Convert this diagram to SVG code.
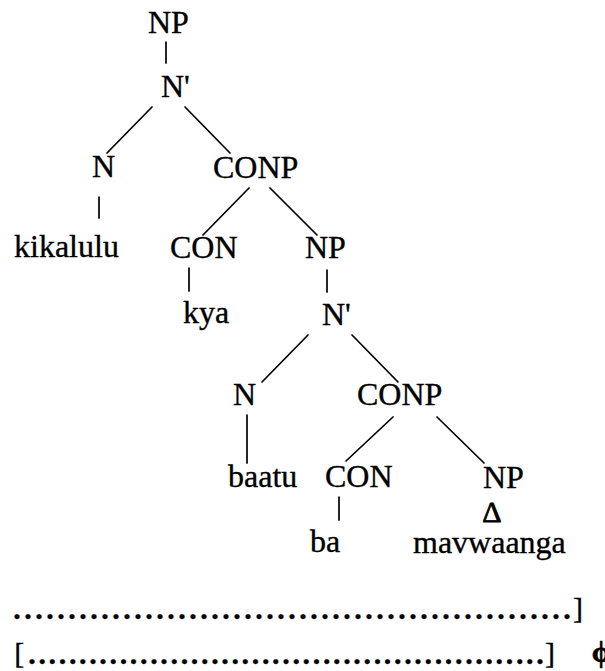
<svg xmlns="http://www.w3.org/2000/svg" width="605" height="671" viewBox="0 0 605 671">
  <style>
    text { font-family: "Liberation Serif", "Times New Roman", serif; fill: #000; stroke: #000; stroke-width: 0.35; }
    .lbl { font-size: 32px; }
    .tri { font-size: 30px; stroke-width: 0.8; }
    .br { font-size: 30px; }
    .dots { font-size: 30px; font-weight: bold; }
    .phi { font-size: 30px; font-weight: bold; stroke-width: 0.6; }
    .edge { stroke: #000; stroke-width: 1.7; stroke-linecap: round; fill: none; }
  </style>
  <rect width="605" height="671" fill="#fff"/>

  <!-- tree branches -->
  <g id="connectors">
    <line class="edge" x1="166" y1="42" x2="166" y2="63"/>
    <line class="edge" x1="152" y1="107" x2="107" y2="153"/>
    <line class="edge" x1="185" y1="107" x2="230" y2="153"/>
    <line class="edge" x1="99" y1="197" x2="99" y2="218"/>
    <line class="edge" x1="249" y1="188" x2="203" y2="235"/>
    <line class="edge" x1="270" y1="188" x2="317" y2="235"/>
    <line class="edge" x1="189" y1="268" x2="189" y2="291"/>
    <line class="edge" x1="327" y1="270" x2="327" y2="292"/>
    <line class="edge" x1="308" y1="335" x2="262" y2="382"/>
    <line class="edge" x1="352" y1="335" x2="398" y2="382"/>
    <line class="edge" x1="247" y1="415" x2="247" y2="463"/>
    <line class="edge" x1="393" y1="417" x2="346" y2="461"/>
    <line class="edge" x1="437" y1="417" x2="484" y2="463"/>
    <line class="edge" x1="339" y1="497" x2="339" y2="520"/>
  </g>

  <!-- tree nodes -->
  <g id="np1"><text class="lbl" x="148" y="33">NP</text></g>
  <g id="nbar1"><text class="lbl" x="161" y="97">N'</text></g>
  <g id="n1"><text class="lbl" x="92" y="177">N</text></g>
  <g id="conp1"><text class="lbl" x="213" y="178">CONP</text></g>
  <g id="kikalulu"><text class="lbl" x="14" y="257">kikalulu</text></g>
  <g id="con1"><text class="lbl" x="170" y="258">CON</text></g>
  <g id="np2"><text class="lbl" x="305" y="258">NP</text></g>
  <g id="kya"><text class="lbl" x="183" y="323">kya</text></g>
  <g id="nbar2"><text class="lbl" x="322" y="325">N'</text></g>
  <g id="n2"><text class="lbl" x="233" y="405">N</text></g>
  <g id="conp2"><text class="lbl" x="357" y="405">CONP</text></g>
  <g id="baatu"><text class="lbl" x="228" y="487">baatu</text></g>
  <g id="con2"><text class="lbl" x="325" y="487">CON</text></g>
  <g id="np3"><text class="lbl" x="483" y="488">NP</text></g>
  <g id="delta"><text class="tri" x="492" y="522" text-anchor="middle">Δ</text></g>
  <g id="ba"><text class="lbl" x="310" y="552">ba</text></g>
  <g id="mavwaanga"><text class="lbl" x="413" y="553">mavwaanga</text></g>

  <!-- bracketed dotted spans -->
  <g id="span1">
    <text class="dots" x="13.25" y="619" letter-spacing="3.5">...................................................</text>
    <text class="br" x="573" y="618">]</text>
  </g>
  <g id="span2">
    <text class="br" x="14.3" y="663">[</text>
    <text class="dots" x="28.25" y="664" letter-spacing="2.66">...................................................</text>
    <text class="br" x="545" y="663">]</text>
    <text class="phi" x="601" y="662" text-anchor="middle">ϕ</text>
  </g>
</svg>
